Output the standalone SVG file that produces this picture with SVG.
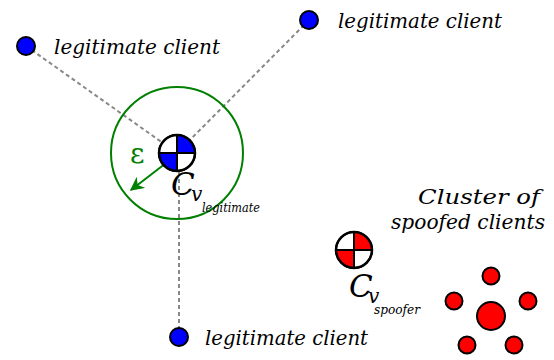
<svg xmlns="http://www.w3.org/2000/svg" width="554" height="360" viewBox="0 0 554 360">
<defs>
<style>
text{font-family:"DejaVu Serif","Liberation Serif",serif}
.lbl{font-style:italic;fill:#000}
.cl{font-size:20px}
.dash{stroke:#888;stroke-width:2;stroke-dasharray:4 3;fill:none}
.blue{fill:#0000ff;stroke:#000;stroke-width:2}
.red{fill:#ff0000;stroke:#000;stroke-width:2}
.q{stroke:#000;stroke-width:2}
</style>
<marker id="ah" viewBox="0 0 10 10" refX="9" refY="5" markerWidth="7" markerHeight="7" orient="auto" markerUnits="strokeWidth">
<path d="M0,0 L10,5 L0,10 L3,5 z" fill="#008000"/>
</marker>
</defs>
<rect width="554" height="360" fill="#fff"/>
<g id="connectors">
<line class="dash" x1="26" y1="46" x2="177" y2="153"/>
<line class="dash" x1="309" y1="20" x2="177" y2="153"/>
<line class="dash" x1="179" y1="337" x2="179" y2="153"/>
</g>
<g id="epsilon-region">
<circle cx="177" cy="153" r="66" fill="none" stroke="#008000" stroke-width="2"/>
<line x1="170" y1="160" x2="131" y2="190" stroke="#008000" stroke-width="2" marker-end="url(#ah)"/>
<text x="130" y="163" font-size="28" fill="#008000">ε</text>
</g>
<g id="client1">
<circle class="blue" cx="26" cy="46" r="9"/>
<text class="lbl cl" x="54" y="54" textLength="166" lengthAdjust="spacingAndGlyphs">legitimate client</text>
</g>
<g id="client2">
<circle class="blue" cx="309" cy="20" r="9"/>
<text class="lbl cl" x="338" y="28" textLength="164" lengthAdjust="spacingAndGlyphs">legitimate client</text>
</g>
<g id="client3">
<circle class="blue" cx="179" cy="337" r="9"/>
<text class="lbl cl" x="205" y="345" textLength="163" lengthAdjust="spacingAndGlyphs">legitimate client</text>
</g>
<g id="centroid-legitimate">
<circle cx="177" cy="153" r="18" fill="#fff" stroke="#000" stroke-width="2"/>
<path d="M177,153 L177,135 A18,18 0 0 1 195,153 Z" fill="#0000ff"/>
<path d="M177,153 L177,171 A18,18 0 0 1 159,153 Z" fill="#0000ff"/>
<line class="q" x1="159" y1="153" x2="195" y2="153"/>
<line class="q" x1="177" y1="135" x2="177" y2="171"/>
<circle cx="177" cy="153" r="18" fill="none" stroke="#000" stroke-width="2.5"/>
<text class="lbl" x="171" y="195" font-size="31">C<tspan x="191" y="201" font-size="20">v</tspan><tspan x="202" y="212" font-size="13" textLength="58" lengthAdjust="spacingAndGlyphs">legitimate</tspan></text>
</g>
<g id="centroid-spoofer">
<circle cx="354" cy="250" r="18" fill="#fff" stroke="#000" stroke-width="2"/>
<path d="M354,250 L354,232 A18,18 0 0 1 372,250 Z" fill="#ff0000"/>
<path d="M354,250 L354,268 A18,18 0 0 1 336,250 Z" fill="#ff0000"/>
<line class="q" x1="336" y1="250" x2="372" y2="250"/>
<line class="q" x1="354" y1="232" x2="354" y2="268"/>
<circle cx="354" cy="250" r="18" fill="none" stroke="#000" stroke-width="2.5"/>
<text class="lbl" x="349" y="297" font-size="31">C<tspan x="368" y="303" font-size="20">v</tspan><tspan x="374" y="314" font-size="13" textLength="46" lengthAdjust="spacingAndGlyphs">spoofer</tspan></text>
</g>
<g id="spoofed-cluster">
<text class="lbl" x="418" y="204" font-size="21" textLength="122" lengthAdjust="spacingAndGlyphs">Cluster of</text>
<text class="lbl" x="391" y="229" font-size="21" textLength="154" lengthAdjust="spacingAndGlyphs">spoofed clients</text>
<circle class="red" cx="491" cy="276" r="8.5"/>
<circle class="red" cx="454" cy="301" r="8.5"/>
<circle class="red" cx="528" cy="301" r="8.5"/>
<circle class="red" cx="491" cy="316" r="14"/>
<circle class="red" cx="467" cy="345" r="8.5"/>
<circle class="red" cx="514" cy="345" r="8.5"/>
</g>
</svg>
